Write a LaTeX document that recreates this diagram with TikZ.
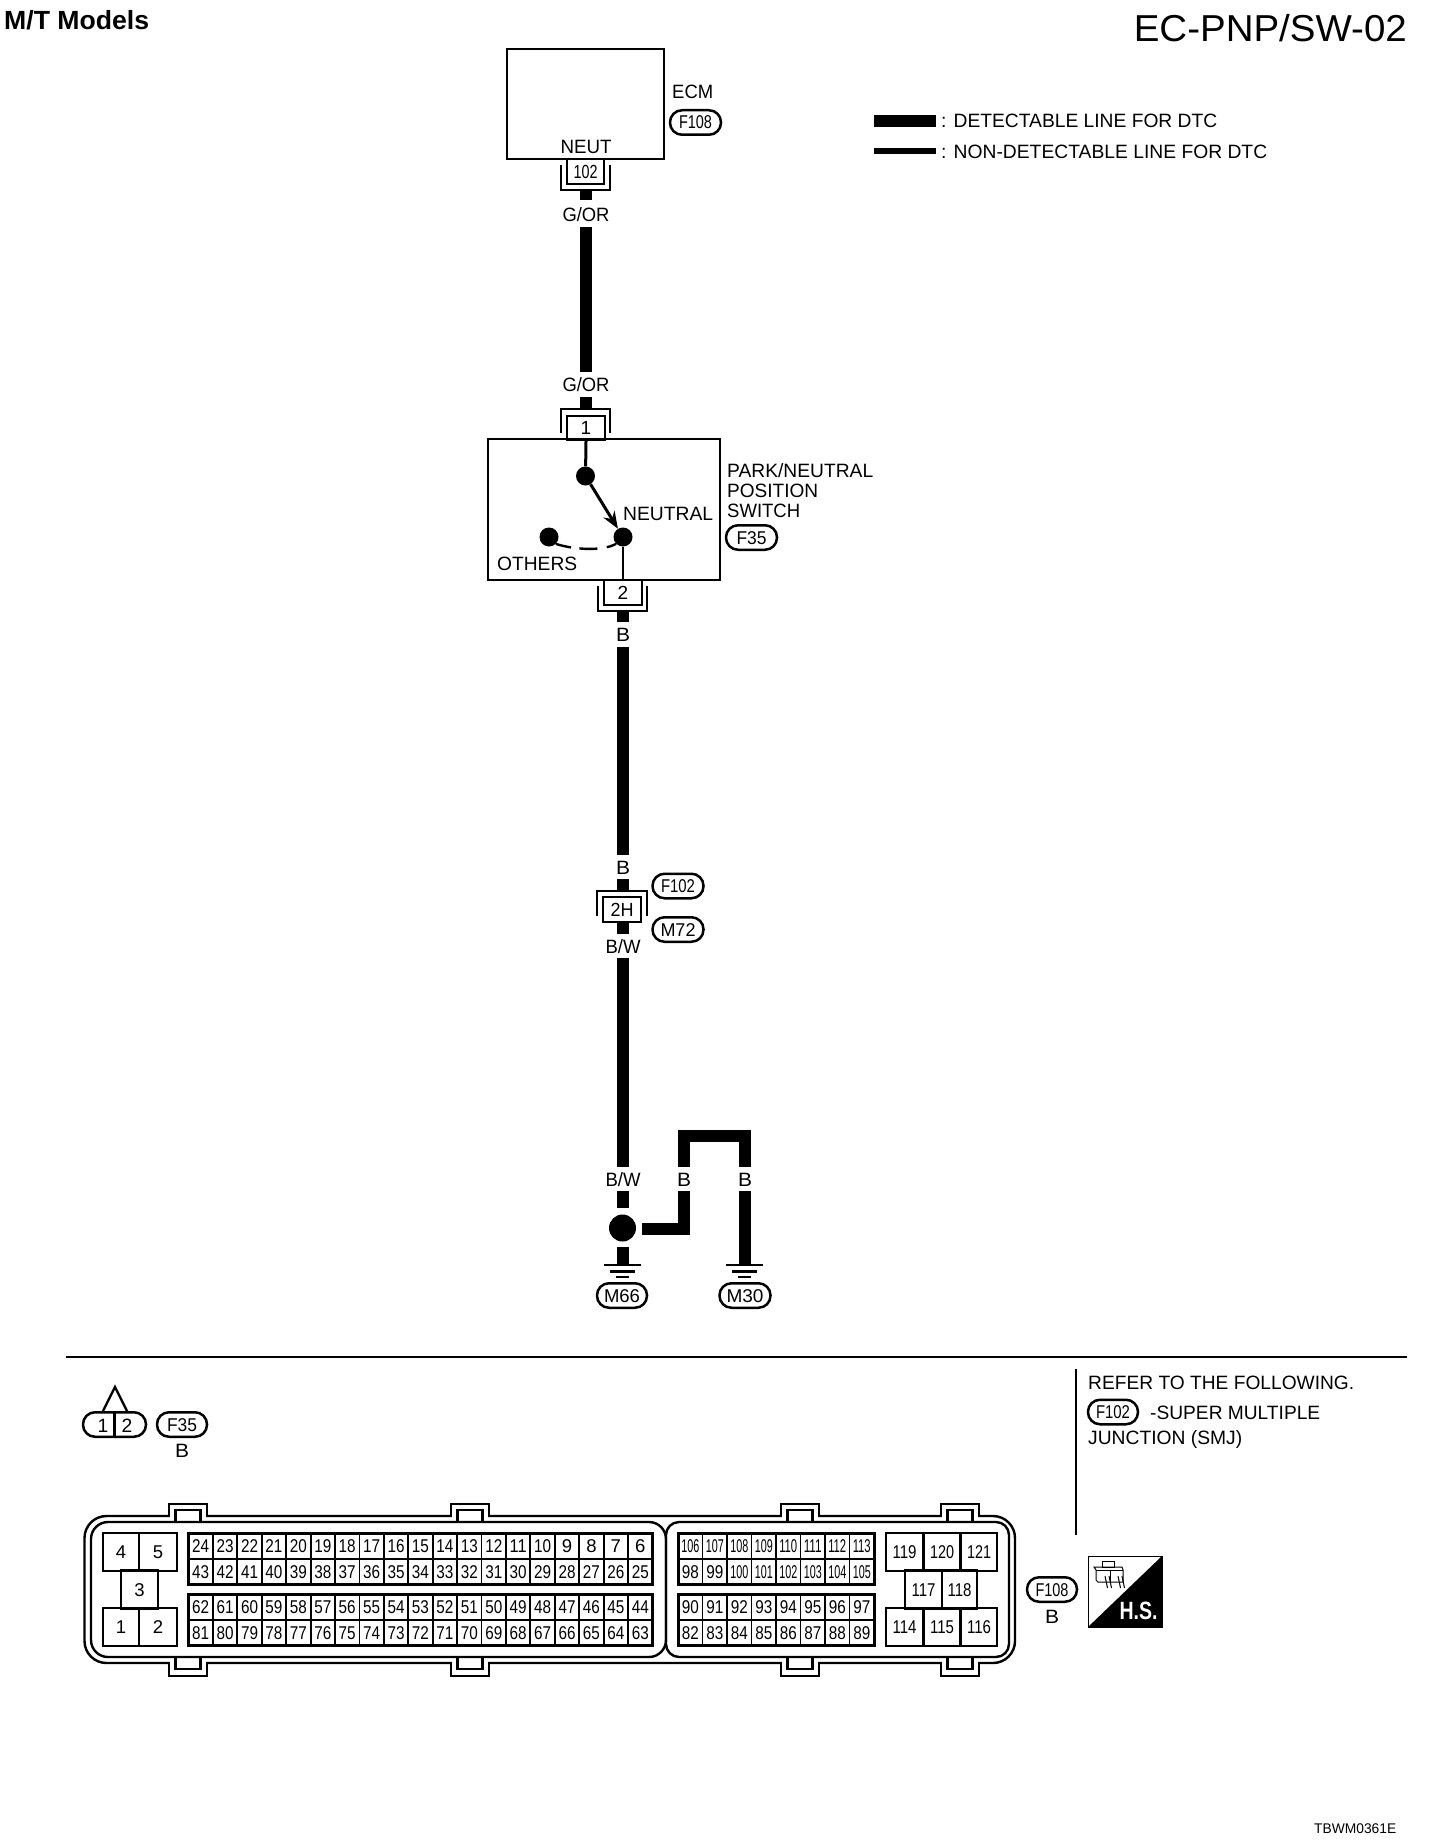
\documentclass[tikz,border=0pt]{standalone}
\usepackage{fontspec}
\usepackage{graphicx}
\setmainfont{Liberation Sans}
\usetikzlibrary{arrows.meta}
\newcommand\fw[2]{\resizebox{#1pt}{\height}{#2}}
\tikzset{
  lab/.style={inner sep=0pt,font=\fontsize{19.3}{19.3}\selectfont,text height=14pt,text depth=0pt},
  wlab/.style={lab,minimum height=24pt,minimum width=10pt},
  wire/.style={line width=12pt,line cap=butt,line join=miter},
  ln/.style={line width=2.4pt,line join=miter},
  pill/.style={draw,line width=2.5pt,rounded corners=12pt,minimum height=24.5pt,inner sep=0pt,
    font=\fontsize{18.5}{18.5}\selectfont,text height=13pt,text depth=0pt},
  pinbox/.style={draw,line width=2.4pt,inner sep=0pt,minimum height=25pt,
    font=\fontsize{19}{19}\selectfont,text height=13.5pt,text depth=0pt},
  cell/.style={draw,line width=1.8pt,inner sep=0pt,minimum width=24.4pt,minimum height=25.5pt,
    font=\fontsize{18.5}{18.5}\selectfont,text height=13.5pt,text depth=0pt},
  bigcell/.style={draw,line width=2.4pt,inner sep=0pt,minimum width=37pt,minimum height=38pt,
    font=\fontsize{18.5}{18.5}\selectfont,text height=13.5pt,text depth=0pt},
  dot/.style={circle,fill=black,inner sep=0pt,minimum size=19pt},
  frame/.style={line width=3pt,line join=miter}
}
\newcommand\pill[6]{\node[pill,minimum width=#4pt] (#1) at (#2,#3) {\fw{#5}{#6}};}
\newcommand\gnd[1]{%
  \draw[line width=2.6pt] (#1-18.5,1265) -- (#1+18.5,1265);
  \draw[line width=2.6pt] (#1-12.5,1271.5) -- (#1+12.5,1271.5);
  \draw[line width=2.6pt] (#1-6.5,1277) -- (#1+6.5,1277);}
\begin{document}
\begin{tikzpicture}[x=1pt,y=-1pt]
\path[use as bounding box,fill=white] (0,0) rectangle (1440,1846);

% titles
\node[inner sep=0pt,anchor=west,font=\fontsize{26.3}{26.3}\selectfont\bfseries,text height=19pt,text depth=0pt] (title) at (4,20.5) {\fw{145}{M/T Models}};
\node[inner sep=0pt,anchor=east,font=\fontsize{37.5}{37.5}\selectfont,text height=27pt,text depth=0pt] (page) at (1407,28.5) {\fw{273}{EC-PNP/SW-02}};
\node[inner sep=0pt,anchor=west,font=\fontsize{14}{14}\selectfont,text height=10pt,text depth=0pt] (code) at (1314,1828) {\fw{82}{TBWM0361E}};

% ECM
\node[draw,ln,minimum width=157pt,minimum height=110pt,inner sep=0pt] (ecm) at (585.5,104) {};
\node[lab] (neut) at (586,147) {\fw{51}{NEUT}};
\node[lab,anchor=west] (ecmt) at (672,92) {\fw{41}{ECM}};
\pill{pF108}{695.5}{122.5}{51}{33}{F108}

% legend
\coordinate (la) at (874,121); \coordinate (lb) at (936,121);
\coordinate (lc) at (874,151); \coordinate (ld) at (936,151);
\draw[wire] (la) -- (lb);
\draw[line width=5.5pt] (lc) -- (ld);
\node[lab,anchor=west] (leg1) at (941,121) {\fw{276}{: DETECTABLE LINE FOR DTC}};
\node[lab,anchor=west] (leg2) at (941,152) {\fw{326}{: NON-DETECTABLE LINE FOR DTC}};

% connector 102
\node[pinbox,minimum width=37pt,minimum height=25pt] (c102) at (585.5,171.5) {\fw{24}{102}};
\draw[ln] (561,165) -- (561,190) -- (610,190) -- (610,165);
\coordinate (c102b) at (586,190);
\node[wlab,minimum height=30pt] (gor1) at (586,215) {\fw{47}{G/OR}};
\draw[wire] (c102b) -- (gor1.north);
\coordinate (gor1s) at (586,227);
\node[wlab,minimum height=25pt] (gor2) at (586,384.5) {\fw{47}{G/OR}};
\draw[wire] (gor1s) -- (gor2.north);
\coordinate (c1t) at (586,409);
\draw[wire] (gor2.south) -- (c1t);

% switch
\node[draw,ln,minimum width=232pt,minimum height=141pt,inner sep=0pt] (sw) at (604,509.5) {};
\node[pinbox,minimum width=38pt,minimum height=24pt] (c1) at (586,428) {1};
\draw[ln] (561,433) -- (561,409) -- (610,409) -- (610,433);
\node[dot] (s1) at (585.5,476) {};
\node[dot] (s2) at (623,537) {};
\node[dot] (s3) at (549,537) {};
\draw[line width=3pt] (c1.south) -- (s1);
\draw[line width=3pt,-{Stealth[length=17pt,width=13pt]}] (s1) -- (s2);
\draw[line width=2.4pt,dash pattern=on 15.5pt off 8.5pt on 18pt off 9.5pt on 11pt off 200pt] (s3.south east) .. controls (571,549) and (601,552) .. (s2.south west);
\node[lab,anchor=west] (neutral) at (623,513) {\fw{90}{NEUTRAL}};
\node[lab,anchor=west] (others) at (497,563) {\fw{80}{OTHERS}};
\node[lab,anchor=west] (sw1t) at (727,470.5) {\fw{146}{PARK/NEUTRAL}};
\node[lab,anchor=west] (sw2t) at (727,490) {\fw{91}{POSITION}};
\node[lab,anchor=west] (sw3t) at (727,510) {\fw{73}{SWITCH}};
\pill{pF35}{751.5}{537.5}{51}{30}{F35}

% connector 2
\node[pinbox,minimum width=38pt,minimum height=25pt] (c2) at (623,592.5) {2};
\draw[line width=2pt] (s2) -- (c2.north);
\draw[ln] (598,586) -- (598,611) -- (647,611) -- (647,586);
\coordinate (c2b) at (623,611);
\node[wlab,minimum height=25pt] (b1) at (623,634.5) {\fw{14}{B}};
\draw[wire] (c2b) -- (b1.north);
\node[wlab,minimum height=24pt] (b2) at (623,867) {\fw{14}{B}};
\draw[wire] (b1.south) -- (b2.north);
\coordinate (c3t) at (623,891);
\draw[wire] (b2.south) -- (c3t);

% connector 2H
\node[pinbox,minimum width=38pt,minimum height=25pt] (c3) at (622,909.5) {\fw{23}{2H}};
\draw[ln] (597,916) -- (597,891) -- (647,891) -- (647,916);
\pill{pF102}{678}{886}{51}{34}{F102}
\pill{pM72}{678}{929.5}{51}{35}{M72}
\coordinate (c3b) at (623,922);
\node[wlab,minimum height=24pt] (bw1) at (623,946) {\fw{35}{B/W}};
\draw[wire] (c3b) -- (bw1.north);
\node[wlab,minimum height=24pt] (bw2) at (623,1179) {\fw{35}{B/W}};
\draw[wire] (bw1.south) -- (bw2.north);

% junction
\node[circle,fill=black,inner sep=0pt,minimum size=27pt] (j) at (622.5,1228) {};
\coordinate (jt) at (623,1208); \coordinate (jb) at (623,1247); \coordinate (jr) at (642,1228.5);
\draw[wire] (bw2.south) -- (jt);
\coordinate (g1) at (623,1264); \coordinate (g2) at (745,1264);
\draw[wire] (jb) -- (g1);
\node[wlab] (b3) at (684,1179) {\fw{14}{B}};
\node[wlab] (b4) at (745,1179) {\fw{14}{B}};
\draw[wire] (jr) -| (b3.south);
\draw[wire] (b3.north) -- ++(0,-31) -| (b4.north);
\draw[wire] (b4.south) -- (g2);
\gnd{622.5}
\gnd{744.5}
\pill{pM66}{622}{1295.5}{50}{36}{M66}
\pill{pM30}{745}{1295.5}{51}{37}{M30}

% separators
\coordinate (h1) at (66,1357); \coordinate (h2) at (1407,1357);
\coordinate (v1) at (1076,1369); \coordinate (v2) at (1076,1535);
\draw[line width=2pt] (h1) -- (h2);
\draw[line width=2.2pt] (v1) -- (v2);

% notes
\node[lab,anchor=west] (ref1) at (1088,1382) {\fw{266}{REFER TO THE FOLLOWING.}};
\pill{pF102b}{1113}{1412}{50}{34}{F102}
\node[lab,anchor=west] (ref2) at (1150,1412) {\fw{170}{-SUPER MULTIPLE}};
\node[lab,anchor=west] (ref3) at (1088,1437) {\fw{154}{JUNCTION (SMJ)}};

% small connector F35
\draw[ln] (103,1411) -- (115,1387) -- (127,1411);
\node[pill,minimum width=63pt] (pc) at (114.5,1424.5) {};
\draw[ln] (114.5,1412) -- (114.5,1437);
\node[lab] (pc1) at (103,1425) {1};
\node[lab] (pc2) at (127,1425) {2};
\pill{pF35b}{182}{1424.5}{50}{30}{F35}
\node[lab] (bf35) at (182,1450) {\fw{14}{B}};

% big connector outline
\draw[ln,rounded corners=22pt] (84.5,1516) rectangle (1015,1663);
\foreach \c in {188,470,800,960}{
  \fill[white] (\c-17.8,1503) rectangle (\c+17.8,1519.5);
  \fill[white] (\c-17.8,1659.5) rectangle (\c+17.8,1677);
  \draw[ln] (\c-19,1516) -- (\c-19,1504) -- (\c+19,1504) -- (\c+19,1516);
  \draw[ln] (\c-19,1663) -- (\c-19,1676) -- (\c+19,1676) -- (\c+19,1663);
}
\draw[ln,rounded corners=17pt] (666,1600) -- (666,1522) -- (91,1522) -- (91,1657) -- (666,1657) -- cycle;
\draw[ln,rounded corners=13pt] (666,1600) -- (666,1522) -- (1009,1522) -- (1009,1657) -- (666,1657) -- cycle;
\foreach \c in {188,470,800,960}{
  \draw[ln] (\c-12.5,1522) -- (\c-12.5,1510) -- (\c+12.5,1510) -- (\c+12.5,1522);
  \draw[ln] (\c-12.5,1657) -- (\c-12.5,1669) -- (\c+12.5,1669) -- (\c+12.5,1657);
}

% left pin block
\node[bigcell,minimum width=36pt] (p4) at (121,1552) {4};
\node[bigcell,minimum width=38pt] (p5) at (158,1552) {5};
\node[bigcell,minimum width=37pt] (p3) at (139.5,1589.5) {3};
\node[bigcell,minimum width=36pt] (p1) at (121,1627) {1};
\node[bigcell,minimum width=38pt] (p2) at (158,1627) {2};

% main pins
\foreach \n [count=\i] in {24,23,22,21,20,19,18,17,16,15,14,13,12,11,10}
  \node[cell] (p\n) at ({188.5+(\i-.5)*24.42},1546) {\fw{17}{\n}};
\foreach \n [count=\i from 16] in {9,8,7,6}
  \node[cell] (p\n) at ({188.5+(\i-.5)*24.42},1546) {\n};
\foreach \n [count=\i] in {43,42,41,40,39,38,37,36,35,34,33,32,31,30,29,28,27,26,25}
  \node[cell] (p\n) at ({188.5+(\i-.5)*24.42},1571.5) {\fw{17}{\n}};
\foreach \n [count=\i] in {62,61,60,59,58,57,56,55,54,53,52,51,50,49,48,47,46,45,44}
  \node[cell] (p\n) at ({188.5+(\i-.5)*24.42},1607) {\fw{17}{\n}};
\foreach \n [count=\i] in {81,80,79,78,77,76,75,74,73,72,71,70,69,68,67,66,65,64,63}
  \node[cell] (p\n) at ({188.5+(\i-.5)*24.42},1632.5) {\fw{17}{\n}};
\draw[frame] (188.5,1533) rectangle (652.5,1584);
\draw[frame] (188.5,1594) rectangle (652.5,1645.5);

% right pins
\foreach \n [count=\i] in {106,107,108,109,110,111,112,113}
  \node[cell,minimum width=24.5pt] (p\n) at ({678+(\i-.5)*24.5},1546) {\fw{18}{\n}};
\foreach \n [count=\i] in {98,99}
  \node[cell,minimum width=24.5pt] (p\n) at ({678+(\i-.5)*24.5},1571.5) {\fw{17}{\n}};
\foreach \n [count=\i from 3] in {100,101,102,103,104,105}
  \node[cell,minimum width=24.5pt] (p\n) at ({678+(\i-.5)*24.5},1571.5) {\fw{18}{\n}};
\foreach \n [count=\i] in {90,91,92,93,94,95,96,97}
  \node[cell,minimum width=24.5pt] (p\n) at ({678+(\i-.5)*24.5},1607) {\fw{17}{\n}};
\foreach \n [count=\i] in {82,83,84,85,86,87,88,89}
  \node[cell,minimum width=24.5pt] (p\n) at ({678+(\i-.5)*24.5},1632.5) {\fw{17}{\n}};
\draw[frame] (678,1533) rectangle (874,1584);
\draw[frame] (678,1594) rectangle (874,1645.5);

% far right pins
\node[bigcell] (p119) at (904.5,1552) {\fw{24}{119}};
\node[bigcell] (p120) at (942,1552) {\fw{24}{120}};
\node[bigcell,minimum width=36pt] (p121) at (979,1552) {\fw{24}{121}};
\node[bigcell] (p117) at (923.5,1589.5) {\fw{24}{117}};
\node[bigcell,minimum width=35pt] (p118) at (959.5,1589.5) {\fw{24}{118}};
\node[bigcell] (p114) at (904.5,1627) {\fw{24}{114}};
\node[bigcell] (p115) at (942,1627) {\fw{24}{115}};
\node[bigcell,minimum width=36pt] (p116) at (979,1627) {\fw{24}{116}};

% F108 label
\pill{pF108b}{1052}{1589.5}{50}{33}{F108}
\node[lab] (bf108) at (1052,1616) {\fw{14}{B}};

% H.S. icon
\draw[line width=1pt] (1088,1556) rectangle (1162,1627);
\fill[black] (1162,1556) -- (1162,1627) -- (1088,1627) -- cycle;
\node[inner sep=0pt,text=white,font=\fontsize{25}{25}\selectfont\bfseries,text height=18pt,text depth=0pt] (hs) at (1138.5,1610) {\fw{38}{H.S.}};
\draw[line width=1pt] (1102,1561) rectangle (1114,1567);
\draw[line width=1pt] (1094,1567) -- (1122,1567) -- (1123,1570) -- (1123,1582) -- (1098,1582) -- (1096,1580) -- (1096,1570) -- cycle;
\draw[line width=1pt] (1096,1570) -- (1123,1570);
\draw[line width=1pt] (1110,1570) -- (1110,1582);
\foreach \x in {1105,1109,1118,1122}
  \draw[line width=1pt] (\x,1576) -- (\x+2.5,1588);
\end{tikzpicture}
\end{document}
